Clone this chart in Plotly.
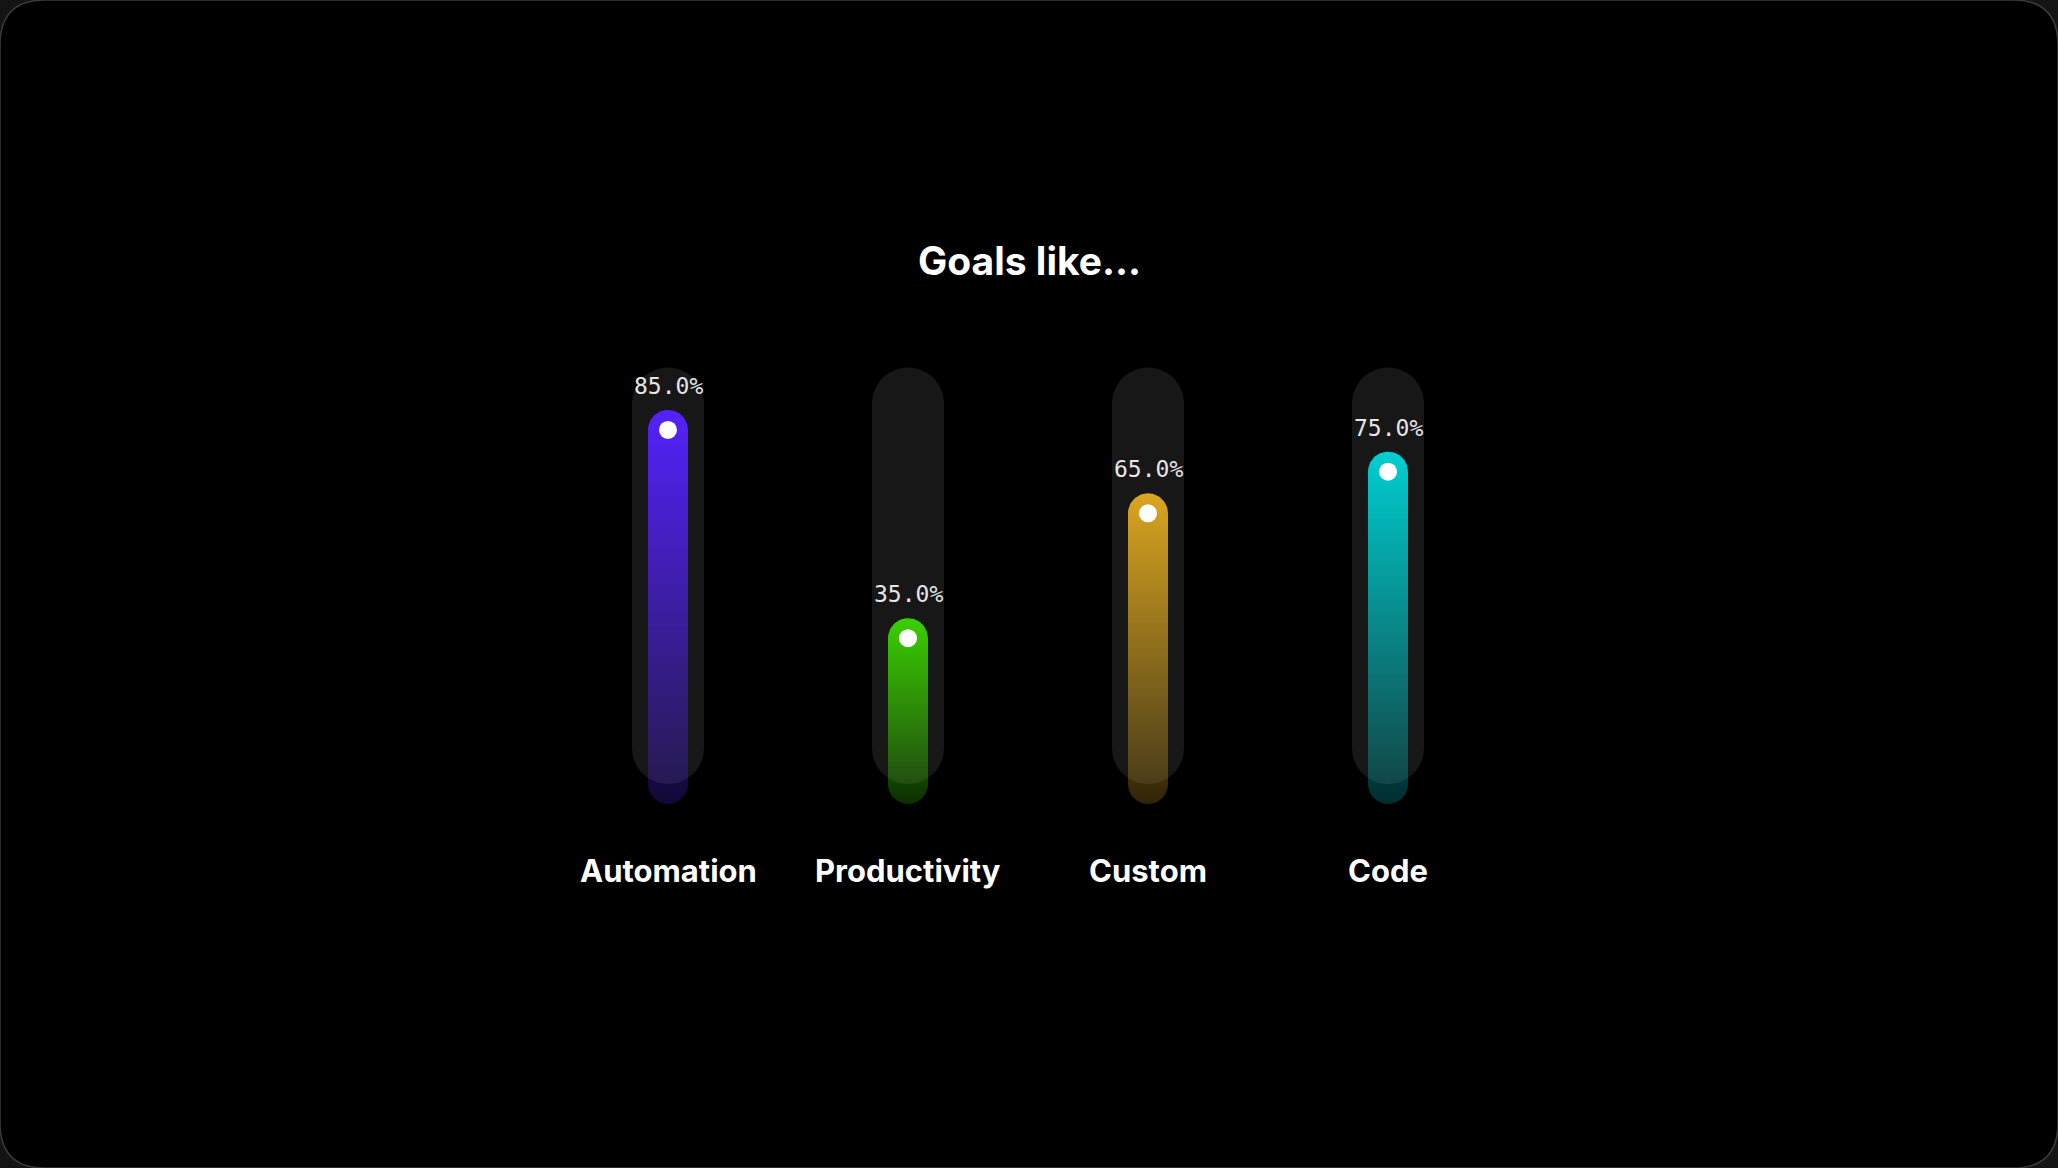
import numpy as np
import plotly.graph_objects as go

# ---------------- data ----------------
categories = ["Automation", "Productivity", "Custom", "Code"]
values = [85.0, 35.0, 65.0, 75.0]
value_labels = ["85.0%", "35.0%", "65.0%", "75.0%"]
bar_colors = ["#5322FA", "#3AD000", "#DAA520", "#00CED1"]
max_value = 100.0
title_text = "Goals like..."

# ---------------- layout constants ----------------
W, H = 2058, 1168
PX_X = 240.0     # pixels per category step
PX_Y = 4.165     # pixels per value unit
X0_PX = 668.0    # pixel x of first category
Y0_PX = 784.0    # pixel y of value 0


def rgba(hex_color, a):
    h = hex_color.lstrip("#")
    r, g, b = int(h[0:2], 16), int(h[2:4], 16), int(h[4:6], 16)
    return f"rgba({r},{g},{b},{a})"


def stadium(cx, y_bot, y_top, half_w_px, r_px, n=48):
    wx = half_w_px / PX_X
    ry = r_px / PX_Y
    t1 = np.linspace(0, np.pi, n)
    t2 = np.linspace(np.pi, 2 * np.pi, n)
    xs = np.concatenate([cx + wx * np.cos(t1), cx + wx * np.cos(t2)])
    ys = np.concatenate([y_top + ry * np.sin(t1), y_bot + ry * np.sin(t2)])
    xs = np.append(xs, xs[0])
    ys = np.append(ys, ys[0])
    return xs, ys


fig = go.Figure()

TRACK_HW = 36
FILL_HW = 20

# background tracks
for i, _ in enumerate(categories):
    r_units = TRACK_HW / PX_Y
    xs, ys = stadium(i, 0 + r_units, max_value - r_units, TRACK_HW, TRACK_HW)
    fig.add_trace(go.Scatter(
        x=xs, y=ys, mode="lines", fill="toself",
        fillcolor="#171717", line=dict(width=0),
        hoverinfo="skip", showlegend=False))

# gradient fills
for i, (v, c) in enumerate(zip(values, bar_colors)):
    xs, ys = stadium(i, 0, v, FILL_HW, FILL_HW)
    fig.add_trace(go.Scatter(
        x=xs, y=ys, mode="lines", fill="toself",
        fillgradient=dict(type="vertical",
                          colorscale=[[0, rgba(c, 0.22)], [1, rgba(c, 1.0)]]),
        line=dict(width=0),
        hoverinfo="skip", showlegend=False))

# white knobs
fig.add_trace(go.Scatter(
    x=list(range(len(categories))), y=values, mode="markers",
    marker=dict(size=18, color="white", line=dict(width=0)),
    hoverinfo="skip", showlegend=False))

annotations = []
for i, (v, lab) in enumerate(zip(values, value_labels)):
    annotations.append(dict(
        x=i, y=v, xref="x", yref="y", text=lab, showarrow=False,
        yshift=44, xanchor="center", yanchor="middle",
        font=dict(family="DejaVu Sans Mono", size=23, color="#E6E6E6")))
for i, cat in enumerate(categories):
    annotations.append(dict(
        x=i, y=0, xref="x", yref="y", text=cat, showarrow=False,
        yshift=-86, xanchor="center", yanchor="middle",
        font=dict(family="Inter", size=31, color="#FFFFFF", weight=700)))
annotations.append(dict(
    x=0.5, y=1 - 260 / H, xref="paper", yref="paper", text=title_text,
    showarrow=False, xanchor="center", yanchor="middle",
    font=dict(family="Inter", size=39, color="#FFFFFF", weight=700)))

# rounded frame
rx, ry = 45 / W, 45 / H
frame_path = (
    f"M {rx},0 L {1-rx},0 Q 1,0 1,{ry} "
    f"L 1,{1-ry} Q 1,1 {1-rx},1 "
    f"L {rx},1 Q 0,1 0,{1-ry} "
    f"L 0,{ry} Q 0,0 {rx},0 Z"
)

fig.update_layout(
    width=W, height=H,
    margin=dict(l=0, r=0, t=0, b=0),
    paper_bgcolor="#141414",
    plot_bgcolor="rgba(0,0,0,0)",
    showlegend=False,
    annotations=annotations,
    shapes=[dict(type="path", path=frame_path, xref="paper", yref="paper",
                 fillcolor="#000000", line=dict(color="#3A3A3A", width=1.5),
                 layer="below")],
    xaxis=dict(visible=False, fixedrange=True,
               range=[-X0_PX / PX_X, (W - X0_PX) / PX_X]),
    yaxis=dict(visible=False, fixedrange=True,
               range=[-(H - Y0_PX) / PX_Y, Y0_PX / PX_Y]),
)

fig.write_html("out.html")
